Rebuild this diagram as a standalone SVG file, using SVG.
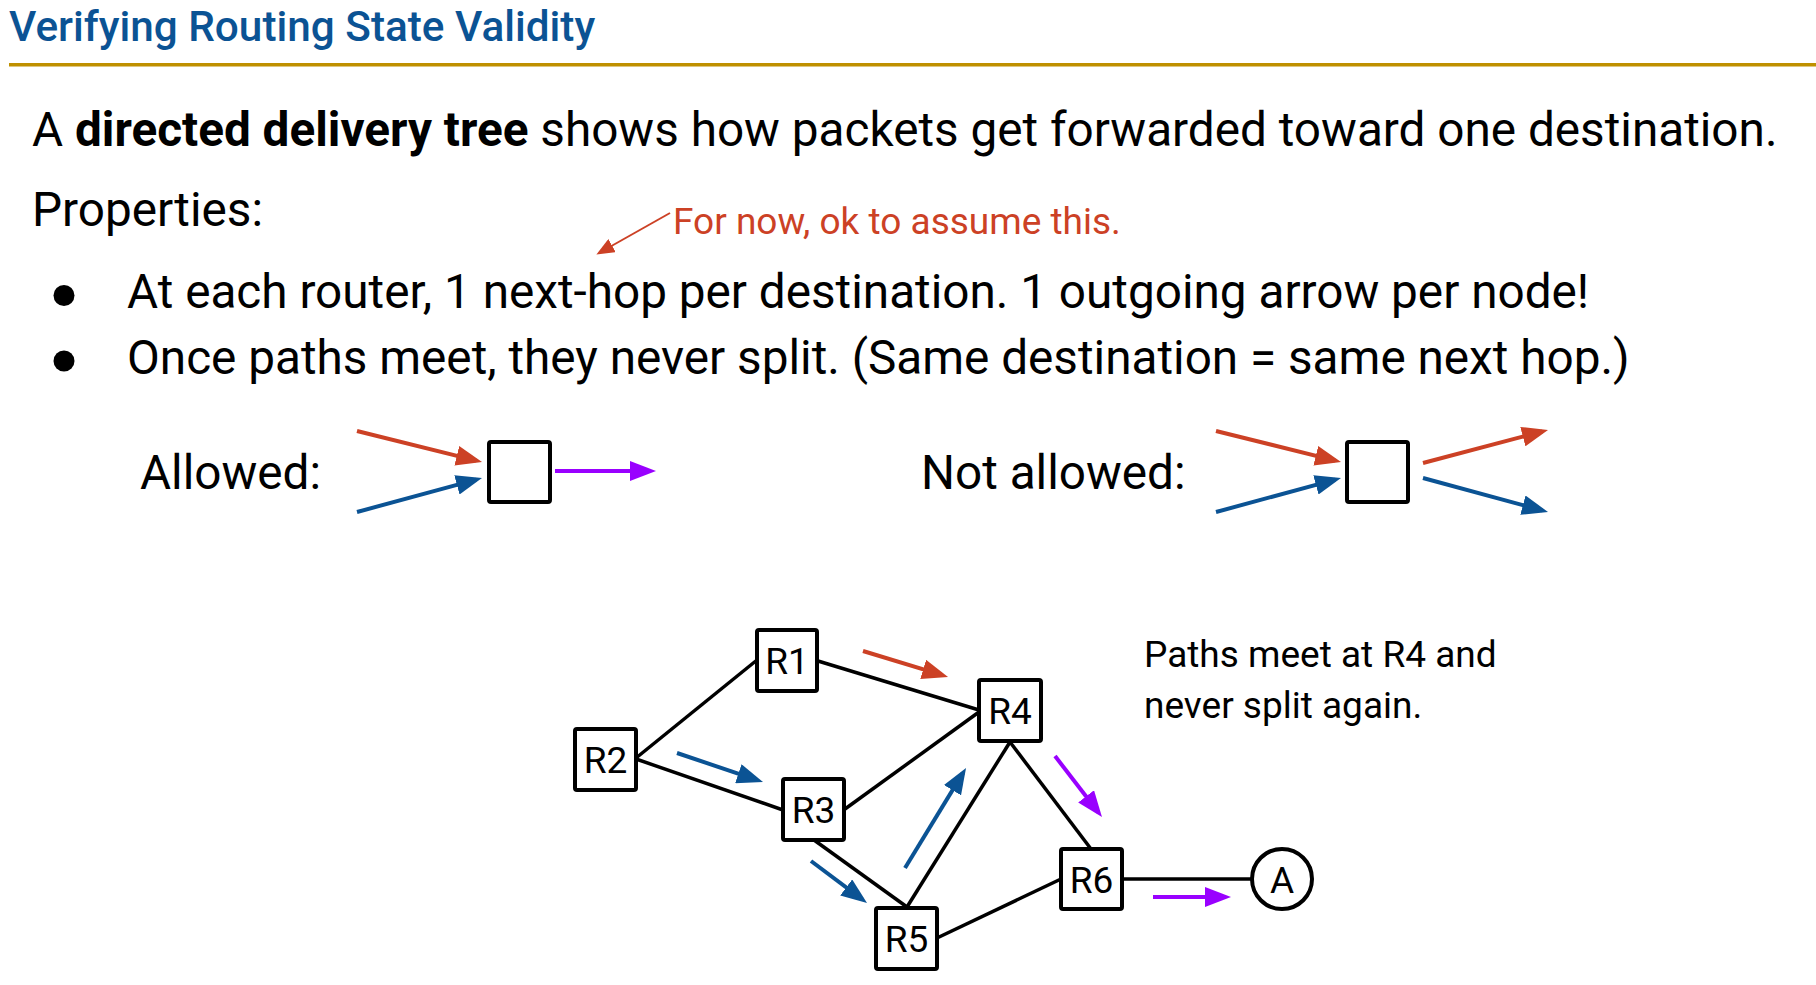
<svg xmlns="http://www.w3.org/2000/svg" width="1816" height="985" viewBox="0 0 1816 985">
  <defs>
    <style>
      text { font-family: Roboto, "Liberation Sans", sans-serif; fill: #000; }
      .title { font-size: 42.3px; font-weight: 500; fill: #0b5394; }
      .body { font-size: 47.7px; }
      .note { font-size: 37px; fill: #cc4125; }
      .cap { font-size: 37px; }
      .lbl { font-size: 37px; text-anchor: middle; }
      .box { fill: #fff; stroke: #000; stroke-width: 4; }
      .edge { stroke: #000; stroke-width: 3.5; fill: none; }
      .ar { stroke: #cc4125; stroke-width: 4; fill: none; marker-end: url(#hr); }
      .ab { stroke: #0b5394; stroke-width: 4; fill: none; marker-end: url(#hb); }
      .ap { stroke: #9900ff; stroke-width: 4; fill: none; marker-end: url(#hp); }
    </style>
    <marker id="hr" markerUnits="userSpaceOnUse" viewBox="0 0 26 20" refX="20" refY="10" markerWidth="26" markerHeight="20" orient="auto"><path d="M0,0 L26,10 L0,20 z" fill="#cc4125"/></marker>
    <marker id="hb" markerUnits="userSpaceOnUse" viewBox="0 0 26 20" refX="20" refY="10" markerWidth="26" markerHeight="20" orient="auto"><path d="M0,0 L26,10 L0,20 z" fill="#0b5394"/></marker>
    <marker id="hp" markerUnits="userSpaceOnUse" viewBox="0 0 26 20" refX="20" refY="10" markerWidth="26" markerHeight="20" orient="auto"><path d="M0,0 L26,10 L0,20 z" fill="#9900ff"/></marker>
    <marker id="hs" markerUnits="userSpaceOnUse" viewBox="0 0 18 15" refX="15" refY="7.5" markerWidth="18" markerHeight="15" orient="auto"><path d="M0,0 L18,7.5 L0,15 z" fill="#cc4125"/></marker>
  </defs>

  <g id="header">
    <text class="title" x="9" y="41">Verifying Routing State Validity</text>
    <rect x="9" y="63" width="1807" height="3.5" fill="#bf9000"/>
  </g>

  <g id="intro">
    <text class="body" x="32" y="146">A <tspan font-weight="700">directed delivery tree</tspan> shows how packets get forwarded toward one destination.</text>
    <text class="body" x="32" y="226">Properties:</text>
    <text class="note" x="673" y="234">For now, ok to assume this.</text>
    <line x1="670" y1="213" x2="599" y2="253" stroke="#cc4125" stroke-width="2" marker-end="url(#hs)"/>
    <circle cx="64" cy="295.5" r="10.5" fill="#000"/>
    <text class="body" x="127" y="308">At each router, 1 next-hop per destination. 1 outgoing arrow per node!</text>
    <circle cx="64" cy="361" r="10.5" fill="#000"/>
    <text class="body" x="127" y="374">Once paths meet, they never split. (Same destination = same next hop.)</text>
  </g>

  <g id="allowed">
    <text class="body" x="140" y="489">Allowed:</text>
    <rect class="box" x="489" y="442" width="61" height="60" rx="2"/>
    <line class="ar" x1="357" y1="431" x2="476.2" y2="460.6"/>
    <line class="ab" x1="357" y1="512" x2="476.2" y2="479.6"/>
    <line class="ap" x1="555" y1="471" x2="650" y2="471"/>
  </g>

  <g id="not-allowed">
    <text class="body" x="921" y="489">Not allowed:</text>
    <rect class="box" x="1347" y="442" width="61" height="60" rx="2"/>
    <line class="ar" x1="1216" y1="431" x2="1335.2" y2="460.6"/>
    <line class="ab" x1="1216" y1="512" x2="1335.2" y2="479.6"/>
    <line class="ar" x1="1423" y1="463" x2="1542.2" y2="431.5"/>
    <line class="ab" x1="1423" y1="478" x2="1542.2" y2="510.4"/>
  </g>

  <g id="connectors">
    <line class="edge" x1="636" y1="758" x2="757" y2="660"/>
    <line class="edge" x1="818" y1="661" x2="979" y2="710"/>
    <line class="edge" x1="636" y1="759" x2="783" y2="810"/>
    <line class="edge" x1="845" y1="809" x2="979" y2="712"/>
    <line class="edge" x1="814" y1="840" x2="907" y2="907"/>
    <line class="edge" x1="907" y1="907" x2="1010" y2="742"/>
    <line class="edge" x1="937" y1="938" x2="1061" y2="879"/>
    <line class="edge" x1="1010" y1="742" x2="1091" y2="849"/>
    <line class="edge" x1="1122" y1="879" x2="1252" y2="879"/>
    <line class="ar" x1="863" y1="651" x2="942.3" y2="675.2"/>
    <line class="ab" x1="677" y1="753" x2="757.3" y2="780.1"/>
    <line class="ab" x1="811" y1="861" x2="862.2" y2="899.4"/>
    <line class="ab" x1="905" y1="868" x2="962.9" y2="773.1"/>
    <line class="ap" x1="1055" y1="756" x2="1098.3" y2="812.2"/>
    <line class="ap" x1="1153" y1="897" x2="1225" y2="897"/>
  </g>

  <g id="R1"><rect class="box" x="757" y="630" width="60" height="61" rx="2"/><text class="lbl" x="787" y="674">R1</text></g>
  <g id="R2"><rect class="box" x="575" y="729" width="61" height="61" rx="2"/><text class="lbl" x="605.5" y="773">R2</text></g>
  <g id="R3"><rect class="box" x="783" y="779" width="61" height="61" rx="2"/><text class="lbl" x="813.5" y="823">R3</text></g>
  <g id="R4"><rect class="box" x="979" y="680" width="62" height="61" rx="2"/><text class="lbl" x="1010" y="724">R4</text></g>
  <g id="R5"><rect class="box" x="876" y="908" width="61" height="61" rx="2"/><text class="lbl" x="906.5" y="952">R5</text></g>
  <g id="R6"><rect class="box" x="1061" y="849" width="61" height="60" rx="2"/><text class="lbl" x="1091.5" y="892.5">R6</text></g>
  <g id="A"><circle cx="1282" cy="879" r="30" fill="#fff" stroke="#000" stroke-width="4"/><text class="lbl" x="1282" y="892.5">A</text></g>

  <g id="caption">
    <text class="cap" x="1144" y="667">Paths meet at R4 and</text>
    <text class="cap" x="1144" y="718">never split again.</text>
  </g>
</svg>
